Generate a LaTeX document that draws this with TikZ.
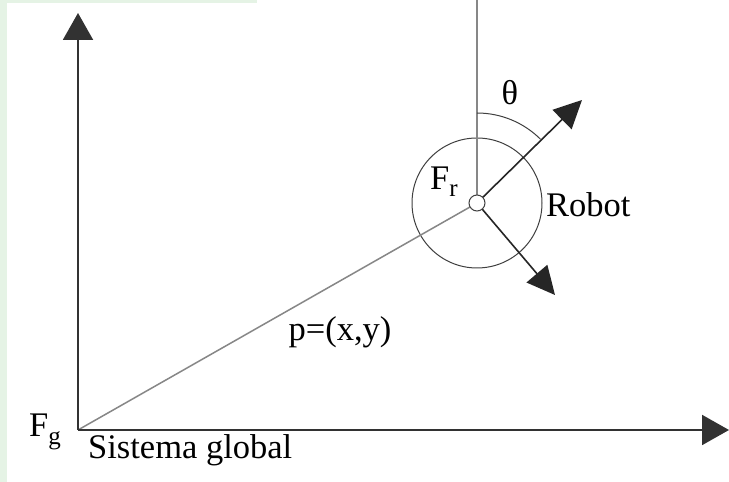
\documentclass[tikz,border=0pt]{standalone}
\usepackage{fontspec}
\setmainfont{Liberation Serif}
\usetikzlibrary{arrows.meta,calc}
\definecolor{bggreen}{RGB}{229,243,229}
\definecolor{axisgray}{RGB}{50,50,50}
\definecolor{linegray}{RGB}{135,135,135}
\begin{document}
\begin{tikzpicture}[x=1pt,y=1pt,
  axis/.style={draw=axisgray,line width=2pt,-{Triangle[length=27pt,width=30pt]}},
  vec/.style={draw=black!85,line width=1.6pt,-{Triangle[length=28pt,width=27pt]}},
  thin/.style={draw=linegray,line width=1.5pt},
  lbl/.style={inner sep=0pt,font=\fontsize{34.5}{36}\selectfont}]
\useasboundingbox (0,0) rectangle (729,482);
\fill[white] (0,0) rectangle (729,482);
\fill[bggreen] (0,0) rectangle (7,482);
\fill[bggreen] (0,479) rectangle (257,482);
\coordinate (O) at (78,52);
\coordinate (ytip) at (78,469);
\coordinate (xtip) at (729,52);
\coordinate (R) at (477,279);
\coordinate (top) at (477,482);
\coordinate (hd) at (582,382);
\coordinate (sd) at (555,187);
% robot body
\draw[draw=black!75,line width=1pt] (R) circle[radius=65];
% gray lines
\draw[thin] (R) -- (top);
\draw[thin] (O) -- (R);
% axes
\draw[axis] (O) -- (ytip);
\draw[axis] (O) -- (xtip);
% robot axes
\draw[vec] (R) -- (hd);
\draw[vec] (R) -- (sd);
% angle arc
\draw[draw=black!75,line width=1pt] ($(R)+(0,90)$) arc[start angle=90,end angle=45,radius=90];
% small circle
\draw[draw=black!75,line width=1pt,fill=white] (R) circle[radius=8];
% labels
\node[lbl] (theta) at (510,389) {θ};
\node[lbl,anchor=base west] (Fr) at (430,292) {F\raisebox{-7pt}{\fontsize{25}{25}\selectfont r}};
\node[lbl,anchor=west] (robot) at (546,277) {Robot};
\node[lbl] (p) at (340,150) {p=(x,y)};
\node[lbl,anchor=base west] (Fg) at (29,45) {F\raisebox{-8pt}{\fontsize{25}{25}\selectfont g}};
\node[lbl,anchor=west] (sg) at (88,32) {Sistema global};
\end{tikzpicture}
\end{document}
